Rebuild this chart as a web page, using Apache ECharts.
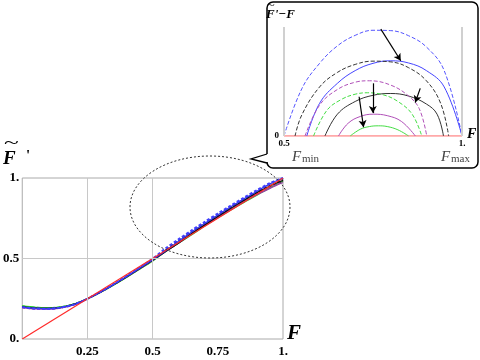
<!DOCTYPE html>
<html>
<head>
<meta charset="utf-8">
<script src="https://cdn.jsdelivr.net/npm/echarts@6/dist/echarts.min.js"></script>
<style>
  html, body { margin: 0; padding: 0; background: #fff; }
  #main { width: 480px; height: 360px; }
</style>
</head>
<body>
<div id="main"></div>
<script>
// main plot: F' against F
const fMain = [0, 0.05, 0.1, 0.15, 0.2, 0.25, 0.3, 0.35, 0.4, 0.45, 0.5,
  0.55, 0.6, 0.65, 0.7, 0.75, 0.8, 0.85, 0.9, 0.95, 1.0];
const greenSolid = [0.205, 0.197, 0.194, 0.200, 0.218, 0.250, 0.290, 0.335, 0.383, 0.433, 0.485,
  0.544, 0.596, 0.648, 0.702, 0.753, 0.802, 0.849, 0.894, 0.938, 0.980];
const greenDashed = [0.205, 0.197, 0.194, 0.200, 0.218, 0.250, 0.291, 0.336, 0.385, 0.435, 0.487,
  0.546, 0.604, 0.659, 0.711, 0.761, 0.810, 0.857, 0.900, 0.941, 0.980];
const blackSolid = [0.200, 0.192, 0.190, 0.197, 0.216, 0.250, 0.291, 0.337, 0.386, 0.437, 0.489,
  0.544, 0.597, 0.656, 0.709, 0.761, 0.812, 0.861, 0.909, 0.950, 0.985];
const blackDashed = [0.200, 0.192, 0.190, 0.197, 0.216, 0.250, 0.292, 0.338, 0.388, 0.440, 0.493,
  0.554, 0.613, 0.668, 0.720, 0.771, 0.820, 0.869, 0.915, 0.955, 0.990];
const purpleSolid = [0.195, 0.187, 0.186, 0.194, 0.214, 0.250, 0.291, 0.337, 0.386, 0.436, 0.488,
  0.544, 0.596, 0.653, 0.705, 0.756, 0.805, 0.853, 0.896, 0.936, 0.972];
const purpleDashed = [0.195, 0.187, 0.186, 0.194, 0.214, 0.250, 0.292, 0.338, 0.388, 0.439, 0.492,
  0.550, 0.609, 0.663, 0.715, 0.765, 0.814, 0.861, 0.905, 0.944, 0.980];
const blueSolid = [0.198, 0.190, 0.188, 0.196, 0.215, 0.250, 0.292, 0.338, 0.388, 0.440, 0.493,
  0.548, 0.609, 0.665, 0.718, 0.770, 0.821, 0.870, 0.918, 0.964, 1.000];
const blueDashed = [0.198, 0.190, 0.188, 0.196, 0.215, 0.250, 0.293, 0.340, 0.391, 0.444, 0.498,
  0.563, 0.620, 0.675, 0.728, 0.779, 0.829, 0.878, 0.925, 0.968, 1.000];
const fRed = [0, 1];
const redLine = [0, 1];

// inset: F' - F between Fmin and Fmax
const insetBlueDashed = [[0.5, 0], [0.55, 0.0130], [0.6, 0.0200], [0.65, 0.0248], [0.7, 0.0277], [0.75, 0.0291],
  [0.8, 0.0290], [0.85, 0.0276], [0.9, 0.0245], [0.95, 0.0180], [1.0, 0]];
const insetBlueSolid = [[0.564, 0], [0.6, 0.0090], [0.65, 0.0145], [0.7, 0.0180], [0.75, 0.0200], [0.8, 0.0207],
  [0.85, 0.0201], [0.9, 0.0180], [0.95, 0.0135], [1.0, 0]];
const insetBlackDashed = [[0.531, 0], [0.55, 0.0058], [0.6, 0.0135], [0.65, 0.0175], [0.7, 0.0197], [0.75, 0.0206],
  [0.8, 0.0204], [0.85, 0.0188], [0.9, 0.0152], [0.94, 0.0090], [0.9625, 0]];
const insetBlackSolid = [[0.615, 0], [0.65, 0.0060], [0.7, 0.0095], [0.75, 0.0112], [0.8, 0.0117],
  [0.85, 0.0110], [0.9, 0.0088], [0.93, 0.0060], [0.948, 0]];
const insetPurpleDashed = [[0.559, 0], [0.6, 0.0085], [0.65, 0.0128], [0.7, 0.0148], [0.74, 0.0152],
  [0.8, 0.0140], [0.85, 0.0110], [0.88, 0.0075], [0.901, 0]];
const insetPurpleSolid = [[0.653, 0], [0.68, 0.0035], [0.715, 0.0054], [0.751, 0.0060], [0.79, 0.0056], [0.83, 0.0040], [0.869, 0]];
const insetGreenDashed = [[0.583, 0], [0.62, 0.0070], [0.66, 0.0100], [0.7, 0.0115], [0.735, 0.0119],
  [0.78, 0.0113], [0.82, 0.0095], [0.86, 0.0060], [0.887, 0]];
const insetGreenSolid = [[0.686, 0], [0.715, 0.0019], [0.74, 0.0026], [0.765, 0.0028], [0.79, 0.0026], [0.82, 0.0017], [0.85, 0]];
const insetRed = [[0.5, 0], [1.0, 0]];
// arrows from dashed to solid curves
const insetArrows = [
  [[0.772, 0.0294], [0.828, 0.0207]],
  [[0.8827, 0.0131], [0.8686, 0.0092]],
  [[0.7495, 0.0145], [0.7495, 0.0063]],
  [[0.711, 0.0108], [0.7235, 0.0024]]
];

const serif = "'Liberation Serif', 'DejaVu Serif', serif";
const pair = (xs, ys) => xs.map((x, i) => [x, ys[i]]);

function mainLine(name, ys, color, dashed, width) {
  return {
    name: name, type: 'line', xAxisIndex: 0, yAxisIndex: 0,
    data: pair(fMain, ys), smooth: 0.3, symbol: 'none', silent: true,
    lineStyle: { color: color, width: width || 1.3, type: dashed ? [3, 2] : 'solid' }
  };
}
function insetLine(name, pts, color, dashed) {
  return {
    name: name, type: 'line', xAxisIndex: 1, yAxisIndex: 1,
    data: pts, smooth: 0.4, symbol: 'none', silent: true,
    lineStyle: { color: color, width: 1, type: dashed ? [4, 2] : 'solid' }
  };
}

const chart = echarts.init(document.getElementById('main'));
chart.setOption({
  animation: false,
  backgroundColor: '#fff',
  grid: [
    { left: 22, top: 178, width: 261, height: 161, show: true, borderColor: '#aaa', borderWidth: 1 },
    { left: 284, top: 27, width: 178, height: 109, show: false }
  ],
  xAxis: [
    {
      gridIndex: 0, type: 'value', min: 0, max: 1, interval: 0.25,
      axisLine: { show: false }, axisTick: { show: false }, splitLine: { show: false },
      axisLabel: {
        margin: 6, fontFamily: serif, fontWeight: 'bold', fontSize: 13, color: '#000',
        formatter: v => v === 0 ? '' : (v === 1 ? '1.' : String(v))
      }
    },
    {
      gridIndex: 1, type: 'value', min: 0.5, max: 1, interval: 0.5,
      axisLine: { show: false }, axisTick: { show: false }, splitLine: { show: false },
      axisLabel: {
        margin: 3, fontFamily: serif, fontWeight: 'bold', fontSize: 9, color: '#000',
        formatter: v => v === 1 ? '1.' : String(v)
      }
    }
  ],
  yAxis: [
    {
      gridIndex: 0, type: 'value', min: 0, max: 1, interval: 0.5,
      axisLine: { show: false }, axisTick: { show: false }, splitLine: { show: false },
      axisLabel: {
        margin: 3, fontFamily: serif, fontWeight: 'bold', fontSize: 13, color: '#000',
        formatter: v => v === 0 ? '0.' : (v === 1 ? '1.' : String(v))
      }
    },
    {
      gridIndex: 1, type: 'value', min: 0, max: 0.03, interval: 0.03,
      axisLine: { show: false }, axisTick: { show: false }, splitLine: { show: false },
      axisLabel: {
        margin: 5, fontFamily: serif, fontWeight: 'bold', fontSize: 9, color: '#000',
        formatter: v => v === 0 ? '0' : ''
      }
    }
  ],
  series: [
    {
      type: 'line', xAxisIndex: 0, yAxisIndex: 0, data: [], silent: true,
      markLine: {
        silent: true, symbol: 'none', label: { show: false },
        lineStyle: { color: '#c8c8c8', width: 1, type: 'solid' },
        data: [{ xAxis: 0.25 }, { xAxis: 0.5 }, { yAxis: 0.5 }]
      }
    },
    mainLine('green', greenSolid, '#22cc22', false),
    mainLine('green dashed', greenDashed, '#33cc33', true),
    mainLine('purple', purpleSolid, '#9a3aa8', false),
    mainLine('purple dashed', purpleDashed, '#a040b0', true, 1.6),
    mainLine('black dashed', blackDashed, '#333', true),
    mainLine('black', blackSolid, '#111', false),
    mainLine('blue', blueSolid, '#3333ee', false),
    mainLine('blue dashed', blueDashed, '#4040ff', true, 2),
    {
      name: 'red', type: 'line', xAxisIndex: 0, yAxisIndex: 0, data: pair(fRed, redLine),
      symbol: 'none', silent: true, lineStyle: { color: '#ff2a2a', width: 1.2 }
    },
    {
      name: 'inset red', type: 'line', xAxisIndex: 1, yAxisIndex: 1, data: insetRed,
      symbol: 'none', silent: true, lineStyle: { color: '#ff8c8c', width: 1.5 },
      markLine: {
        silent: true, symbol: 'none', label: { show: false },
        lineStyle: { color: '#d0d0d0', width: 2, type: 'solid' },
        data: [{ xAxis: 0.5 }, { xAxis: 1 }]
      }
    },
    insetLine('inset blue dashed', insetBlueDashed, '#5555ff', true),
    insetLine('inset blue', insetBlueSolid, '#4444ff', false),
    insetLine('inset black dashed', insetBlackDashed, '#333', true),
    insetLine('inset black', insetBlackSolid, '#333', false),
    insetLine('inset purple dashed', insetPurpleDashed, '#b050b8', true),
    insetLine('inset purple', insetPurpleSolid, '#b050b8', false),
    insetLine('inset green dashed', insetGreenDashed, '#44dd44', true),
    {
      ...insetLine('inset green', insetGreenSolid, '#44dd44', false),
      markLine: {
        silent: true, symbol: ['none', 'arrow'], symbolSize: [6, 7], label: { show: false },
        lineStyle: { color: '#000', width: 1.2, type: 'solid' },
        data: insetArrows.map(a => [{ coord: a[0] }, { coord: a[1] }])
      }
    }
  ],
  graphic: [
    // dotted zoom ellipse on the main plot
    { type: 'ellipse', shape: { cx: 210, cy: 207, rx: 80, ry: 51 }, style: { fill: 'none', stroke: '#333', lineWidth: 1, lineDash: [2, 2] }, silent: true, z: 10 },
    // inset box with callout
    { type: 'rect', shape: { x: 267, y: 2, width: 211, height: 166, r: 6 }, style: { fill: 'none', stroke: '#000', lineWidth: 1.5 }, silent: true, z: 10 },
    { type: 'line', shape: { x1: 267, y1: 154, x2: 267, y2: 162 }, style: { stroke: '#fff', lineWidth: 3 }, silent: true, z: 11 },
    { type: 'polyline', shape: { points: [[267, 154], [251, 159], [267, 163]] }, style: { fill: 'none', stroke: '#000', lineWidth: 1.3 }, silent: true, z: 12 },
    // main axis names
    { type: 'text', x: 3, y: 150, style: { text: 'F', font: 'italic bold 19px ' + serif, fill: '#000' }, silent: true },
    { type: 'text', x: 4, y: 136, scaleX: 1.7, style: { text: '~', font: '16px ' + serif, fill: '#000' }, silent: true },
    { type: 'text', x: 26, y: 149, style: { text: "'", font: 'bold 15px ' + serif, fill: '#000' }, silent: true },
    { type: 'text', x: 287, y: 323, style: { text: 'F', font: 'italic bold 21px ' + serif, fill: '#000' }, silent: true },
    // inset axis names
    { type: 'text', x: 266, y: 8, style: { text: "F'\u2212F", font: 'italic bold 13px ' + serif, fill: '#000' }, silent: true },
    { type: 'text', x: 267, y: 0, scaleX: 1.3, style: { text: '~', font: '11px ' + serif, fill: '#000' }, silent: true },
    { type: 'text', x: 467, y: 127, style: { text: 'F', font: 'italic bold 14px ' + serif, fill: '#000' }, silent: true },
    { type: 'text', x: 292, y: 150, style: { text: 'F', font: 'italic 15px ' + serif, fill: '#444' }, silent: true },
    { type: 'text', x: 302, y: 154, style: { text: 'min', font: '11px ' + serif, fill: '#444' }, silent: true },
    { type: 'text', x: 441, y: 150, style: { text: 'F', font: 'italic 15px ' + serif, fill: '#444' }, silent: true },
    { type: 'text', x: 451, y: 154, style: { text: 'max', font: '11px ' + serif, fill: '#444' }, silent: true }
  ]
});
window.onresize = function() {
  chart.resize();
};
</script>
</body>
</html>
